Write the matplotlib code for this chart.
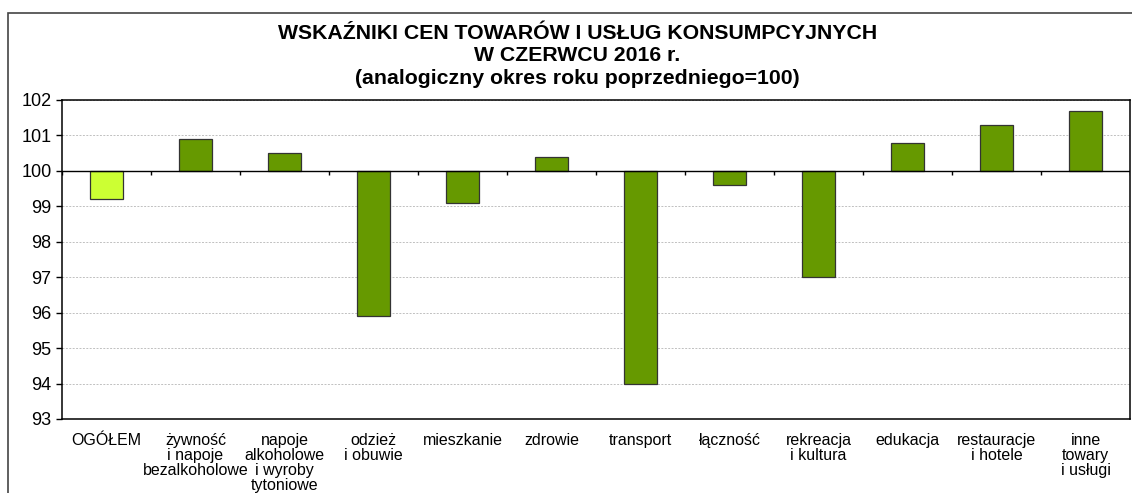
import numpy as np
import matplotlib.pyplot as plt
from matplotlib.patches import Rectangle

plt.rcParams['font.family'] = ['Liberation Sans', 'DejaVu Sans']

# category labels and index values (same period of previous year = 100)
categories = ["OGÓŁEM", "żywność\ni napoje\nbezalkoholowe", "napoje\nalkoholowe\ni wyroby\ntytoniowe",
              "odzież\ni obuwie", "mieszkanie", "zdrowie", "transport", "łączność",
              "rekreacja\ni kultura", "edukacja", "restauracje\ni hotele", "inne\ntowary\ni usługi"]
values = [99.2, 100.9, 100.5, 95.9, 99.1, 100.4, 94.0, 99.6, 97.0, 100.8, 101.3, 101.7]
base = 100
yticks = list(range(93, 103))

fig = plt.figure(figsize=(11.32, 4.93), dpi=100)
ax = fig.add_axes([62/1132, 1 - 419/493, 1068/1132, 319/493])

# frame around the chart area
fig.patches.append(Rectangle((8/1132, -0.1), 1.2, 1 - 13/493 + 0.1, transform=fig.transFigure,
                             fill=False, edgecolor='#444444', lw=1.2))

x = np.arange(len(values))
colors = ['#ccff33'] + ['#669900'] * (len(values) - 1)
vals = np.array(values)
ax.bar(x, vals - base, bottom=base, width=0.37, color=colors, edgecolor='#333333', lw=0.9, zorder=3)

ax.set_xlim(-0.5, len(values) - 0.5)
ax.set_ylim(yticks[0], yticks[-1])
ax.set_yticks(yticks)
ax.tick_params(axis='y', labelsize=13, length=4, width=1)
for y in yticks:
    if y != base:
        ax.axhline(y, color='#c0c0c0', lw=0.7, ls=(0, (2, 1.5)), zorder=1)
ax.axhline(base, color='black', lw=1.0, zorder=4)
ax.vlines(np.arange(len(values) + 1) - 0.5, base - 0.12, base, color='black', lw=1.0, zorder=4)

ax.set_xticks(x)
ax.set_xticklabels(categories, fontsize=11.5, linespacing=1.0, va='top')
ax.tick_params(axis='x', length=0, pad=10)

for s in ax.spines.values():
    s.set_linewidth(1.1)

fig.text(0.51, 1 - 24/493, "WSKAŹNIKI CEN TOWARÓW I USŁUG KONSUMPCYJNYCH\nW CZERWCU 2016 r.\n(analogiczny okres roku poprzedniego=100)",
         ha='center', va='top', fontsize=15.3, fontweight='bold', linespacing=1.22)

fig.savefig("out.png", dpi=100)
